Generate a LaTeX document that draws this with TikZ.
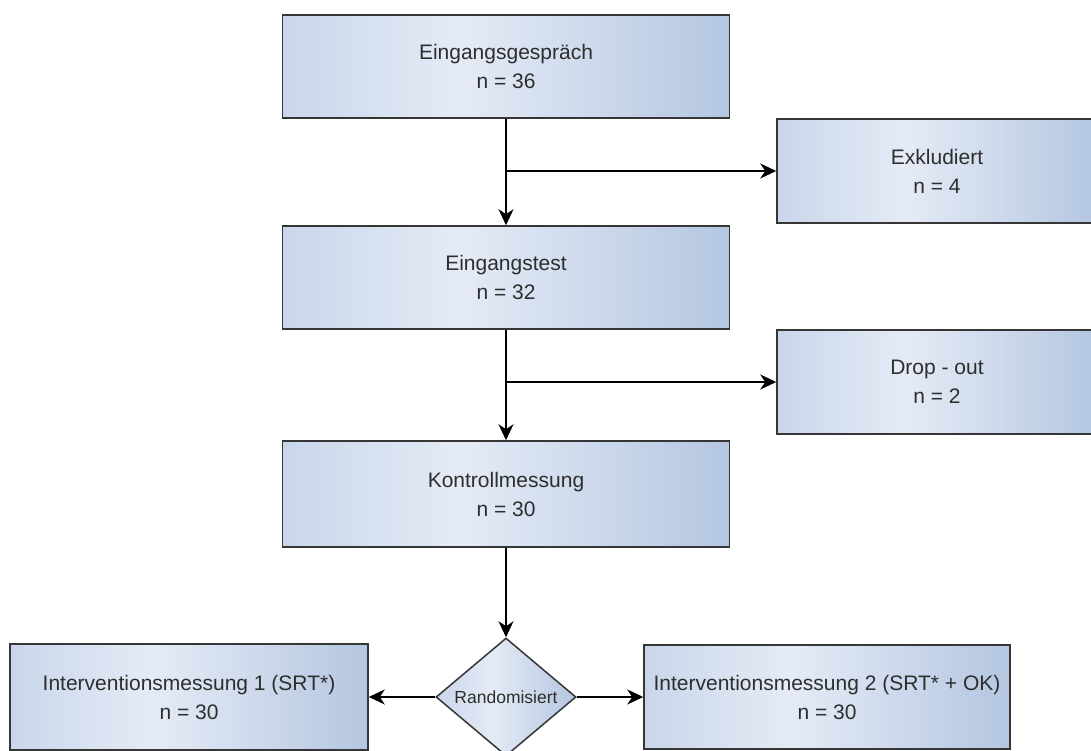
\documentclass[tikz,border=0pt]{standalone}
\usepackage{fontspec}
\setmainfont{Liberation Sans}
\usetikzlibrary{arrows.meta,shapes.geometric}
\definecolor{fillA}{HTML}{C9D6EA}
\definecolor{fillB}{HTML}{E5EBF6}
\definecolor{fillC}{HTML}{B4C6E1}
\definecolor{edgegray}{HTML}{363636}
\definecolor{txtgray}{HTML}{2E2E2E}
\pgfdeclarehorizontalshading{boxshade}{100bp}{color(0bp)=(fillA); color(25bp)=(fillA); color(45bp)=(fillB); color(75bp)=(fillC); color(100bp)=(fillC)}
\tikzset{
  flowbox/.style={draw=edgegray, line width=1.5pt, shading=boxshade, shading angle=0,
    rectangle, inner sep=0pt, align=center, text=txtgray,
    font=\fontsize{21}{29}\selectfont},
  decide/.style={draw=edgegray, line width=1.5pt, shading=boxshade, shading angle=0,
    diamond, aspect=1.19, inner sep=0pt, minimum width=140pt, minimum height=118pt,
    text=txtgray, font=\fontsize{17.5}{21}\selectfont},
  arr/.style={-{Stealth[length=16pt,width=15pt,inset=5pt]}, line width=1.4pt, draw=black}
}
\begin{document}
\begin{tikzpicture}[x=1pt,y=-1pt]
\useasboundingbox (0,0) rectangle (1091,751);
\clip (0,0) rectangle (1091,751);
\node[flowbox, minimum width=447pt, minimum height=103pt] (b1) at (506,66.5) {Eingangsgespräch\\n = 36};
\node[flowbox, minimum width=320pt, minimum height=104pt] (excl) at (937,171) {Exkludiert\\n = 4};
\node[flowbox, minimum width=447pt, minimum height=103pt] (b2) at (506,277.5) {Eingangstest\\n = 32};
\node[flowbox, minimum width=320pt, minimum height=104pt] (drop) at (937,382) {Drop - out\\n = 2};
\node[flowbox, minimum width=447pt, minimum height=106pt] (b3) at (506,494) {Kontrollmessung\\n = 30};
\node[decide] (rand) at (506,697) {Randomisiert};
\node[flowbox, minimum width=358pt, minimum height=106pt] (iv1) at (189,697) {Interventionsmessung 1 (SRT*)\\n = 30};
\node[flowbox, minimum width=366pt, minimum height=104pt] (iv2) at (827,697) {Interventionsmessung 2 (SRT* + OK)\\n = 30};
\draw[arr] (b1.south) -- (b2.north);
\draw[arr] (b1.south |- excl.west) -- (excl.west);
\draw[arr] (b2.south) -- (b3.north);
\draw[arr] (b2.south |- drop.west) -- (drop.west);
\draw[arr] (b3.south) -- (rand.north);
\draw[arr] (rand.west) -- (iv1.east);
\draw[arr] (rand.east) -- (iv2.west);
\end{tikzpicture}
\end{document}
